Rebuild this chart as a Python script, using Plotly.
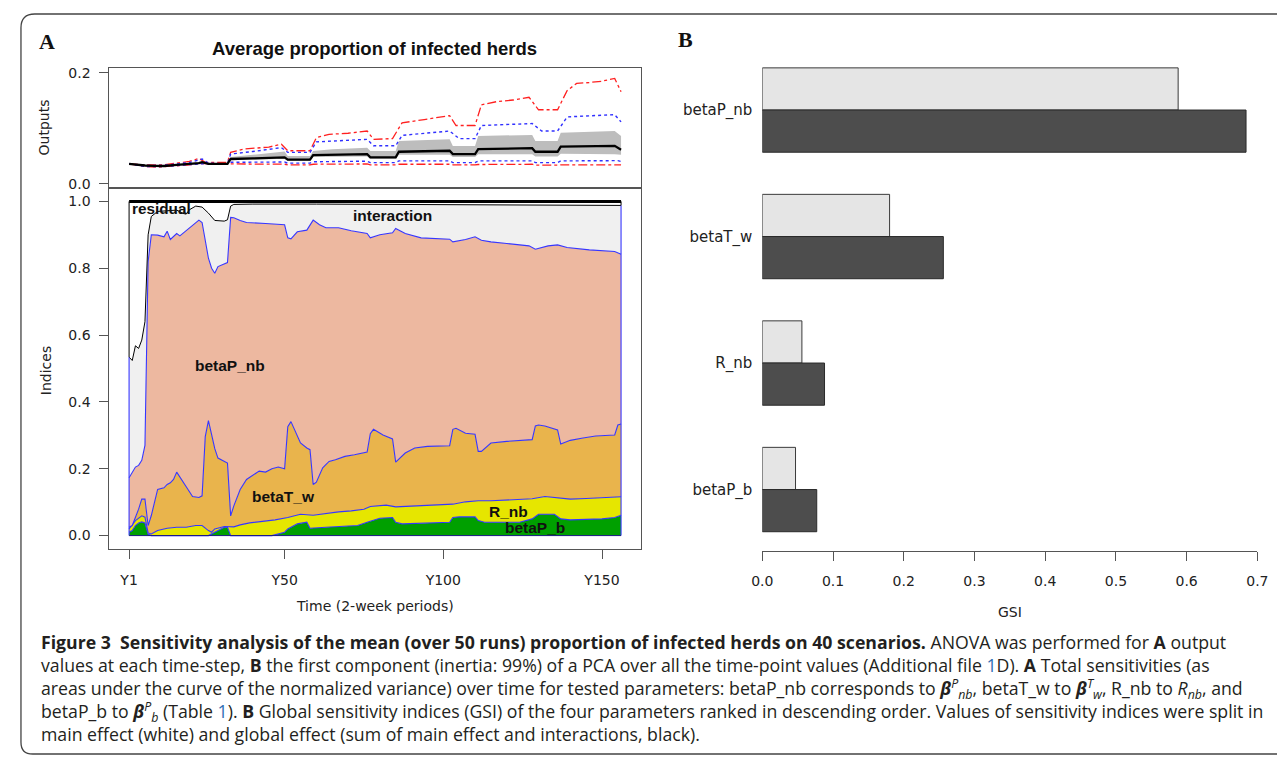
import plotly.graph_objects as go

# The page body adds an 8 px margin, so the figure is sized to fill the rest of the window
OFF = 8
W, H = 1285 - 2 * OFF, 767 - 2 * OFF

# ---------------- Panel A (top): outputs over time ----------------
mean_t = [1, 3, 6, 9, 12, 16, 20, 23, 24, 26, 32, 33, 40, 45, 50, 51, 58, 59, 65, 70,
          76, 77, 85, 86, 95, 102, 103, 110, 111, 120, 128, 129, 136, 137, 145, 154, 156]
mean_v = [0.0356, 0.034, 0.0327, 0.032, 0.0318, 0.034, 0.035, 0.037, 0.0386, 0.0356,
          0.0356, 0.0445, 0.0455, 0.046, 0.0475, 0.0434, 0.0434, 0.0516, 0.052, 0.0525,
          0.0534, 0.0475, 0.0475, 0.0576, 0.058, 0.0594, 0.0534, 0.0534, 0.0623, 0.063,
          0.064, 0.0576, 0.0576, 0.067, 0.0675, 0.0683, 0.0612]

band_hi_t = [1, 6, 12, 20, 24, 26, 32, 33, 40, 50, 51, 58, 59, 65, 76, 77, 85, 86, 95, 102,
             103, 110, 111, 120, 128, 129, 136, 137, 145, 154, 156]
band_hi_v = [0.0362, 0.0338, 0.0328, 0.0362, 0.0398, 0.0366, 0.0366, 0.048, 0.052, 0.058,
             0.050, 0.050, 0.059, 0.062, 0.065, 0.059, 0.059, 0.077, 0.079, 0.080,
             0.068, 0.068, 0.086, 0.087, 0.088, 0.077, 0.077, 0.092, 0.093, 0.095, 0.086]

band_lo_t = [1, 6, 12, 20, 24, 26, 32, 33, 50, 51, 58, 59, 76, 77, 85, 86, 102, 103, 110, 111,
             128, 129, 136, 137, 154, 156]
band_lo_v = [0.035, 0.0316, 0.0308, 0.0338, 0.0374, 0.0346, 0.0346, 0.042, 0.045, 0.041,
             0.041, 0.048, 0.049, 0.045, 0.045, 0.052, 0.052, 0.048, 0.048, 0.053,
             0.053, 0.049, 0.049, 0.054, 0.053, 0.052]

blue_hi_t = [1, 6, 12, 16, 20, 24, 26, 32, 33, 40, 49, 51, 58, 60, 70, 76, 78, 85, 87, 95,
             102, 105, 110, 112, 120, 128, 131, 136, 139, 146, 154, 156]
blue_hi_v = [0.0356, 0.033, 0.033, 0.036, 0.038, 0.0445, 0.037, 0.0356, 0.0534, 0.058,
             0.065, 0.0564, 0.0564, 0.0754, 0.078, 0.080, 0.0683, 0.0683, 0.0872, 0.091,
             0.095, 0.0813, 0.0813, 0.105, 0.107, 0.1085, 0.095, 0.095, 0.1205, 0.122,
             0.1246, 0.1116]

red_hi_t = [1, 6, 12, 16, 20, 23, 25, 32, 33, 37, 45, 49, 51, 58, 60, 64, 70, 76, 78, 84,
            87, 94, 102, 104, 110, 112, 117, 122, 127, 130, 136, 139, 142, 146, 150, 154, 156]
red_hi_v = [0.0356, 0.034, 0.034, 0.037, 0.040, 0.0457, 0.0385, 0.0385, 0.0564, 0.0623,
            0.066, 0.0712, 0.0594, 0.0594, 0.083, 0.089, 0.091, 0.095, 0.080, 0.0813,
            0.1098, 0.1157, 0.1228, 0.105, 0.105, 0.1423, 0.1483, 0.151, 0.156, 0.1334,
            0.1334, 0.168, 0.181, 0.1826, 0.185, 0.190, 0.166]

blue_lo_t = [1, 6, 12, 20, 24, 32, 33, 50, 51, 58, 59, 76, 77, 85, 86, 102, 103, 110, 111,
             128, 129, 136, 137, 155, 156]
blue_lo_v = [0.0356, 0.031, 0.031, 0.034, 0.036, 0.036, 0.0386, 0.039, 0.037, 0.037,
             0.0395, 0.0405, 0.038, 0.038, 0.041, 0.041, 0.038, 0.038, 0.041, 0.041,
             0.038, 0.038, 0.041, 0.0415, 0.040]

red_lo_t = [1, 6, 10, 14, 20, 24, 32, 33, 50, 51, 58, 59, 76, 77, 85, 86, 102, 103, 110, 111,
            128, 129, 136, 137, 156]
red_lo_v = [0.0356, 0.031, 0.0297, 0.031, 0.034, 0.0365, 0.035, 0.0356, 0.035, 0.034,
            0.034, 0.035, 0.0355, 0.034, 0.034, 0.035, 0.035, 0.034, 0.034, 0.0345,
            0.035, 0.0335, 0.0335, 0.034, 0.034]

# ---------------- Panel A (bottom): cumulative sensitivity indices ----------------
# upper edge of each stacked layer (cumulative)
betaP_b_top_t = [1, 2, 3, 4, 5, 6, 7, 8, 26, 27, 28, 30, 31, 32, 33, 46, 48, 50, 51, 54,
                 57, 58, 63, 69, 73, 76, 78, 80, 84, 85, 87, 94, 102, 103, 105, 110, 111, 113,
                 124, 128, 130, 135, 137, 140, 150, 154, 156]
betaP_b_top = [0.01, 0.015, 0.03, 0.038, 0.041, 0.038, 0.004, 0.0, 0.0, 0.005, 0.01, 0.018,
               0.025, 0.025, 0.0, 0.0, 0.005, 0.01, 0.02, 0.035, 0.04, 0.022, 0.025, 0.028,
               0.03, 0.04, 0.047, 0.052, 0.054, 0.04, 0.035, 0.038, 0.04, 0.054, 0.056, 0.056,
               0.045, 0.04, 0.04, 0.05, 0.064, 0.064, 0.05, 0.047, 0.05, 0.054, 0.061]

R_nb_top_t = [1, 3, 5, 6, 7, 8, 10, 13, 16, 19, 22, 24, 26, 27, 28, 31, 34, 36, 39, 42, 47,
              51, 55, 59, 63, 67, 71, 75, 77, 82, 85, 89, 94, 99, 103, 107, 111, 115, 124,
              128, 132, 136, 140, 145, 150, 156]
R_nb_top = [0.02, 0.045, 0.059, 0.055, 0.008, 0.005, 0.015, 0.022, 0.025, 0.025, 0.03, 0.03,
            0.015, 0.01, 0.02, 0.027, 0.026, 0.032, 0.038, 0.041, 0.047, 0.054, 0.064, 0.061,
            0.067, 0.071, 0.074, 0.079, 0.087, 0.091, 0.086, 0.088, 0.091, 0.094, 0.094,
            0.101, 0.104, 0.104, 0.109, 0.11, 0.117, 0.114, 0.109, 0.111, 0.114, 0.116]

betaT_w_top_t = [1, 2, 4, 5, 6, 7, 8, 9, 10, 12, 13, 14, 15, 16, 18, 19, 21, 23, 24, 25,
                 26, 27, 28, 29, 31, 32, 33, 34, 36, 38, 42, 44, 46, 48, 50, 51, 52, 55, 57,
                 58, 59, 60, 62, 64, 66, 69, 72, 76, 77, 78, 81, 84, 85, 88, 91, 95, 102, 103,
                 104, 107, 110, 111, 112, 115, 120, 124, 128, 129, 130, 132, 136, 137, 140,
                 144, 148, 154, 155, 156]
betaT_w_top = [0.025, 0.03, 0.079, 0.109, 0.109, 0.03, 0.06, 0.10, 0.138, 0.143, 0.153,
               0.158, 0.168, 0.19, 0.158, 0.146, 0.117, 0.114, 0.119, 0.296, 0.344, 0.30,
               0.26, 0.232, 0.222, 0.217, 0.059, 0.089, 0.138, 0.168, 0.193, 0.19, 0.20,
               0.205, 0.20, 0.326, 0.341, 0.277, 0.262, 0.257, 0.153, 0.16, 0.203, 0.222,
               0.227, 0.237, 0.242, 0.25, 0.305, 0.318, 0.301, 0.289, 0.22, 0.247, 0.262,
               0.267, 0.269, 0.318, 0.321, 0.306, 0.303, 0.252, 0.252, 0.277, 0.282, 0.285,
               0.287, 0.328, 0.331, 0.328, 0.316, 0.274, 0.285, 0.292, 0.298, 0.301, 0.331,
               0.334]

betaP_nb_top_t = [1, 2, 3, 4, 5, 6, 7, 8, 10, 12, 13, 14, 16, 17, 18, 20, 23, 24, 26, 27,
                  28, 29, 31, 32, 33, 34, 36, 38, 44, 49, 50, 51, 52, 54, 57, 59, 61, 63, 67,
                  71, 76, 77, 80, 84, 85, 88, 93, 102, 103, 107, 110, 112, 115, 120, 127,
                  129, 133, 136, 139, 146, 154, 156]
betaP_nb_top = [0.173, 0.19, 0.205, 0.21, 0.225, 0.27, 0.82, 0.90, 0.899, 0.894, 0.911,
                0.886, 0.904, 0.897, 0.905, 0.92, 0.944, 0.937, 0.83, 0.80, 0.785, 0.805,
                0.812, 0.817, 0.952, 0.951, 0.943, 0.937, 0.934, 0.929, 0.93, 0.891, 0.888,
                0.909, 0.914, 0.944, 0.93, 0.921, 0.921, 0.912, 0.904, 0.891, 0.90, 0.906,
                0.919, 0.904, 0.891, 0.887, 0.879, 0.886, 0.894, 0.884, 0.879, 0.874, 0.867,
                0.857, 0.867, 0.87, 0.862, 0.855, 0.85, 0.842]

interaction_top_t = [1, 2, 3, 4, 5, 6, 7, 8, 10, 14, 16, 18, 19, 20, 22, 24, 25, 26, 28, 31,
                     32, 33, 34, 40, 60, 100, 140, 156]
interaction_top = [0.534, 0.524, 0.568, 0.56, 0.585, 0.64, 0.90, 0.955, 0.97, 0.972, 0.974,
                   0.964, 0.962, 0.975, 0.986, 0.983, 0.975, 0.965, 0.943, 0.941, 0.945,
                   0.986, 0.991, 0.992, 0.992, 0.991, 0.99, 0.988]
residual_top = 1.0

time_ticks = [1, 50, 100, 150]
time_labels = ["Y1", "Y50", "Y100", "Y150"]

# ---------------- Panel B: global sensitivity indices ----------------
gsi_params = ["betaP_nb", "betaT_w", "R_nb", "betaP_b"]
gsi_main = [0.588, 0.180, 0.056, 0.047]
gsi_total = [0.684, 0.256, 0.088, 0.077]

# ---------------- styles ----------------
BLUE = "#3636ff"
C_GREEN = "#00a000"
C_YELLOW = "#e6e600"
C_ORANGE = "#e9b44c"
C_SALMON = "#edb8a0"
C_INTER = "#f0f0f0"
AX = "#555555"
TXT = "#222222"
TICKFONT = dict(family="DejaVu Sans", size=14, color=TXT)

fig = go.Figure()


def line(x, y, color, width=1.0, dash="solid", xa="x", ya="y", fill=None, fillcolor=None):
    fig.add_trace(go.Scatter(x=x, y=y, mode="lines", xaxis=xa, yaxis=ya,
                             line=dict(color=color, width=width, dash=dash),
                             fill=fill, fillcolor=fillcolor,
                             showlegend=False, hoverinfo="skip"))


# top panel
line(band_lo_t, band_lo_v, "rgba(0,0,0,0)", 0)
line(band_hi_t, band_hi_v, "rgba(0,0,0,0)", 0, fill="tonexty", fillcolor="#bdbdbd")
line(red_hi_t, red_hi_v, "#ff2020", 1.3, "dashdot")
line(red_lo_t, red_lo_v, "#ff2020", 1.3, "dashdot")
line(blue_hi_t, blue_hi_v, "#3030ff", 1.4, "dot")
line(blue_lo_t, blue_lo_v, "#3030ff", 1.4, "dot")
line(mean_t, mean_v, "#000000", 2.3)

# bottom panel: stacked layers
line(betaP_b_top_t, betaP_b_top, BLUE, 1.1, xa="x2", ya="y2", fill="tozeroy", fillcolor=C_GREEN)
line(R_nb_top_t, R_nb_top, BLUE, 1.1, xa="x2", ya="y2", fill="tonexty", fillcolor=C_YELLOW)
line(betaT_w_top_t, betaT_w_top, BLUE, 1.1, xa="x2", ya="y2", fill="tonexty", fillcolor=C_ORANGE)
line(betaP_nb_top_t, betaP_nb_top, BLUE, 1.1, xa="x2", ya="y2", fill="tonexty", fillcolor=C_SALMON)
line(interaction_top_t, interaction_top, "#000000", 1.0, xa="x2", ya="y2", fill="tonexty", fillcolor=C_INTER)
# layer outlines on the left / right edges and the residual top
t0, t1 = interaction_top_t[0], interaction_top_t[-1]
line([t0, t0], [0, interaction_top[0]], BLUE, 1.1, xa="x2", ya="y2")
line([t1, t1], [0, interaction_top[-1]], BLUE, 1.1, xa="x2", ya="y2")
line([t0, t0], [interaction_top[0], residual_top], "#000000", 1.0, xa="x2", ya="y2")
line([t1, t1], [interaction_top[-1], residual_top], "#000000", 1.0, xa="x2", ya="y2")
line([t0, t1], [0, 0], "#1a1a80", 1.0, xa="x2", ya="y2")
line([t0, t1], [residual_top, residual_top], "#000000", 3.0, xa="x2", ya="y2")

# panel B bars
fig.add_trace(go.Bar(y=gsi_params, x=gsi_main, orientation="h", xaxis="x3", yaxis="y3",
                     marker=dict(color="#e5e5e5", line=dict(color="#3a3a3a", width=1)),
                     showlegend=False, hoverinfo="skip"))
fig.add_trace(go.Bar(y=gsi_params, x=gsi_total, orientation="h", xaxis="x3", yaxis="y3",
                     marker=dict(color="#4d4d4d", line=dict(color="#2a2a2a", width=1)),
                     showlegend=False, hoverinfo="skip"))


# window pixel -> paper coordinates
def pxx(x):
    return (x - OFF) / W


def pyy(y):
    return 1 - (y - OFF) / H


box = dict(showline=True, mirror=True, linecolor=AX, linewidth=1, showgrid=False, zeroline=False)
xr = [-5.2, 162.2]

fig.update_layout(
    width=W, height=H, autosize=False,
    margin=dict(l=0, r=0, t=0, b=0),
    paper_bgcolor="white", plot_bgcolor="white",
    barmode="group", bargap=0.333, bargroupgap=0,
    xaxis=dict(domain=[pxx(100), pxx(640.7)], range=xr, anchor="y",
               showticklabels=False, ticks="", **box),
    yaxis=dict(domain=[pyy(185.7), pyy(65)], range=[-0.008, 0.208], anchor="x",
               tickvals=[0, 0.2], ticktext=["0.0", "0.2"], ticks="outside", ticklen=9,
               tickcolor=AX, tickfont=TICKFONT, ticklabelstandoff=6, **box),
    xaxis2=dict(domain=[pxx(100), pxx(640.7)], range=xr, anchor="y2",
                tickvals=time_ticks, ticktext=time_labels, ticks="outside", ticklen=9,
                tickcolor=AX, tickfont=TICKFONT, ticklabelstandoff=9, **box),
    yaxis2=dict(domain=[pyy(550), pyy(185.7)], range=[-0.04, 1.04], anchor="x2",
                tickvals=[0, 0.2, 0.4, 0.6, 0.8, 1.0],
                ticktext=["0.0", "0.2", "0.4", "0.6", "0.8", "1.0"],
                ticks="outside", ticklen=9, tickcolor=AX, tickfont=TICKFONT,
                ticklabelstandoff=6, **box),
    xaxis3=dict(domain=[pxx(764.4), pxx(1268.2)], range=[0, 0.7], anchor="y3",
                tickvals=[0, 0.1, 0.2, 0.3, 0.4, 0.5, 0.6, 0.7],
                ticktext=["0.0", "0.1", "0.2", "0.3", "0.4", "0.5", "0.6", "0.7"],
                ticks="outside", ticklen=9, tickcolor=AX, tickfont=TICKFONT,
                ticklabelstandoff=9, ticklabeloverflow="allow",
                showline=True, linecolor=AX, linewidth=1,
                showgrid=False, zeroline=False),
    yaxis3=dict(domain=[pyy(551.7), pyy(43.25)], type="category",
                categoryorder="array", categoryarray=gsi_params,
                range=[3.483, -0.499], anchor="x3", showline=False, ticks="",
                showgrid=False, zeroline=False, ticklabelstandoff=9,
                tickfont=dict(family="DejaVu Sans", size=15, color=TXT)),
)


def ann(text, x, y, size, family="DejaVu Sans", color=TXT, xanchor="center",
        angle=0, bold=False, align="center"):
    fig.add_annotation(text=("<b>%s</b>" % text) if bold else text,
                       x=pxx(x), y=pyy(y), xref="paper", yref="paper",
                       xanchor=xanchor, yanchor="middle", showarrow=False, align=align,
                       textangle=angle, font=dict(family=family, size=size, color=color))


ann("A", 37, 38, 22, family="Liberation Serif", color="#111", bold=True)
ann("B", 686, 36, 22, family="Liberation Serif", color="#111", bold=True)
ann("Average proportion of infected herds", 370, 45, 18.5, family="Liberation Sans",
    color="#111", bold=True)
ann("Outputs", 33, 125, 14, angle=-90)
ann("Indices", 35, 370, 14, angle=-90)
ann("Time (2-week periods)", 370, 608, 14)
ann("GSI", 1016, 614, 14)

LAB = "Liberation Sans"
ann("residual", 121, 206, 15.3, family=LAB, color="#111", xanchor="left", bold=True)
ann("interaction", 388, 213, 15.5, family=LAB, color="#111", bold=True)
ann("betaP_nb", 223, 365, 15.5, family=LAB, color="#111", bold=True)
ann("betaT_w", 277, 497, 15.5, family=LAB, color="#111", bold=True)
ann("R_nb", 506, 512, 15.5, family=LAB, color="#111", bold=True)
ann("betaP_b", 533, 528, 15.5, family=LAB, color="#111", bold=True)

# caption (one text block, lines left aligned)
BL = "<span style='color:#2f6fb5'>1</span>"
caption_lines = [
    "<b>Figure 3\u00a0\u00a0Sensitivity analysis of the mean (over 50 runs) proportion of infected herds on 40 scenarios.</b> "
    "ANOVA was performed for <b>A</b> output",
    "values at each time-step, <b>B</b> the first component (inertia: 99%) of a PCA over all the time-point values "
    "(Additional file " + BL + "D). <b>A</b> Total sensitivities (as",
    "areas under the curve of the normalized variance) over time for tested parameters: betaP_nb corresponds to "
    "<b><i>β</i></b><sup><i>P</i></sup><sub><i>nb</i></sub>, betaT_w to <b><i>β</i></b><sup><i>T</i></sup><sub><i>w</i></sub>, "
    "R_nb to <i>R</i><sub><i>nb</i></sub>, and",
    "betaP_b to <b><i>β</i></b><sup><i>P</i></sup><sub><i>b</i></sub> (Table " + BL + "). <b>B</b> Global sensitivity indices (GSI) "
    "of the four parameters ranked in descending order. Values of sensitivity indices were split in",
    "main effect (white) and global effect (sum of main effect and interactions, black).",
]
ann("<br>".join(caption_lines), 28, 690, 17.7, family="Open Sans", color="#231f20",
    xanchor="left", align="left")


# rounded frame
def P(x, y):
    return "%.5f,%.5f" % (pxx(x), pyy(y))


frame = ("M " + P(1300, 10) + " L " + P(24, 10) + " Q " + P(10, 10) + " " + P(10, 24) +
         " L " + P(10, 745) + " Q " + P(10, 757) + " " + P(22, 757) + " L " + P(1300, 757))
fig.add_shape(type="path", path=frame, xref="paper", yref="paper",
              line=dict(color="#444444", width=1.3))

fig.write_html("out.html")
